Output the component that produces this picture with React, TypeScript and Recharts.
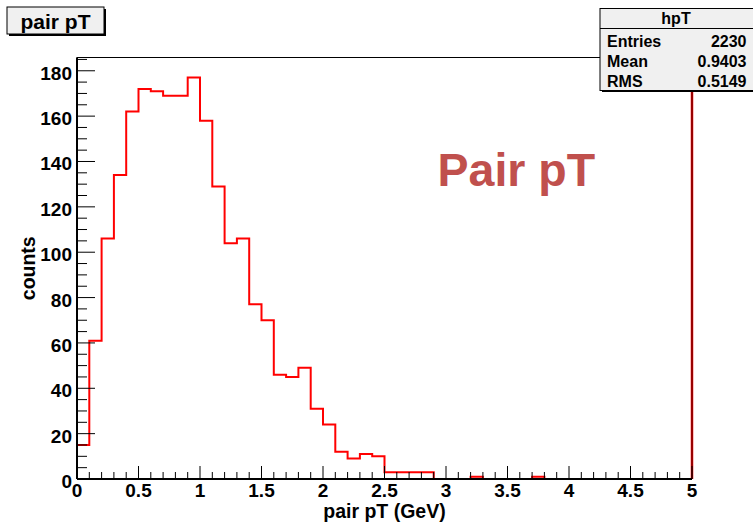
import React from 'react';
import {
  ComposedChart,
  Line,
  XAxis,
  YAxis,
  ReferenceLine,
  ReferenceArea,
} from 'recharts';

// ── Data (0.1 GeV bins) ──────────────────────────────────────────────────────

const X_MIN = 0;
const X_MAX = 5;
const BIN_WIDTH = 0.1;
const Y_MAX = 185.85;

const counts = [
  15, 61, 106, 134, 162, 172, 171, 169, 169, 177,
  158, 129, 104, 106, 77, 70, 46, 45, 49, 31,
  24, 12, 9, 11, 10, 3, 3, 3, 3, 0,
  0, 0, 1, 0, 0, 0, 0, 1, 0, 0,
  0, 0, 0, 0, 0, 0, 0, 0, 0, 0,
];

const xMajorTicks = [0, 0.5, 1, 1.5, 2, 2.5, 3, 3.5, 4, 4.5, 5];
const yMajorTicks = [0, 20, 40, 60, 80, 100, 120, 140, 160, 180];
const X_MINOR_STEP = 0.1;
const Y_MINOR_STEP = 5;

const statsTitle = 'hpT';
const statsRows = [
  ['Entries', '2230'],
  ['Mean', '0.9403'],
  ['RMS', '0.5149'],
];

// ── Helpers ──────────────────────────────────────────────────────────────────

const FONT = '"Liberation Sans", Arial, Helvetica, sans-serif';

const round = (v: number) => Math.round(v * 1000) / 1000;

const xTicks: number[] = [];
for (let i = 0; i <= Math.round((X_MAX - X_MIN) / X_MINOR_STEP); i++) xTicks.push(round(X_MIN + i * X_MINOR_STEP));
const yTicks: number[] = [];
for (let v = 0; v <= Y_MAX; v += Y_MINOR_STEP) yTicks.push(v);

const isIn = (v: number, list: number[]) => list.some((t) => Math.abs(t - v) < 1e-6);

// histogram outline: start at zero on the low edge, one point per bin edge
const histData = [
  { x: X_MIN, count: 0 },
  ...counts.map((c, i) => ({ x: round(X_MIN + i * BIN_WIDTH), count: c })),
  { x: X_MAX, count: 0 },
];

function XTick(props: any) {
  const { x, y, payload } = props;
  const major = isIn(payload.value, xMajorTicks);
  return (
    <g>
      <line x1={x} x2={x} y1={y} y2={y - (major ? 13 : 7)} stroke="#000" strokeWidth={1} />
      {major && (
        <text x={x} y={y + 18} textAnchor="middle" fontFamily={FONT} fontWeight="bold" fontSize={19} fill="#000">
          {String(payload.value)}
        </text>
      )}
    </g>
  );
}

function YTick(props: any) {
  const { x, y, payload } = props;
  const major = isIn(payload.value, yMajorTicks);
  return (
    <g>
      <line x1={x} x2={x + (major ? 18 : 10)} y1={y} y2={y} stroke="#000" strokeWidth={1} />
      {major && (
        <text x={x - 5} y={y + 9} textAnchor="end" fontFamily={FONT} fontWeight="bold" fontSize={19} fill="#000">
          {String(payload.value)}
        </text>
      )}
    </g>
  );
}

// ── Chart ────────────────────────────────────────────────────────────────────

export default function App() {
  return (
    <div style={{ position: 'absolute', left: 0, top: 0, width: 753, height: 526, background: '#fff' }}>
      <ComposedChart
        width={753}
        height={526}
        data={histData}
        margin={{ top: 57.5, right: 61, bottom: 0, left: 0 }}
      >
        <XAxis
          type="number"
          dataKey="x"
          domain={[X_MIN, X_MAX]}
          ticks={xTicks}
          interval={0}
          height={47}
          tickSize={0}
          tickMargin={0}
          tick={(p: any) => <XTick {...p} />}
          axisLine={{ stroke: '#000', strokeWidth: 2 }}
          allowDataOverflow
          label={(p: any) => {
            const vb = p.viewBox;
            return (
              <text x={vb.x + vb.width / 2} y={vb.y + 39} textAnchor="middle" fontFamily={FONT} fontWeight="bold" fontSize={19.5} fill="#000">
                pair pT (GeV)
              </text>
            );
          }}
        />
        <YAxis
          type="number"
          domain={[0, Y_MAX]}
          ticks={yTicks}
          interval={0}
          width={77}
          tickSize={0}
          tickMargin={0}
          tick={(p: any) => <YTick {...p} />}
          axisLine={{ stroke: '#000', strokeWidth: 2 }}
          allowDataOverflow
          label={(p: any) => {
            const vb = p.viewBox;
            const cx = vb.x + 35;
            const cy = vb.y + vb.height / 2;
            return (
              <text x={cx} y={cy} transform={`rotate(-90, ${cx}, ${cy})`} textAnchor="middle" fontFamily={FONT} fontWeight="bold" fontSize={19.5} fill="#000">
                counts
              </text>
            );
          }}
        />
        <ReferenceLine x={X_MAX} stroke="#ff0000" strokeWidth={2.5} ifOverflow="visible" />
        <ReferenceLine x={X_MAX} stroke="#000" strokeWidth={0.8} ifOverflow="visible" />
        <ReferenceArea x1={X_MIN} x2={X_MAX} y1={0} y2={Y_MAX} fill="none" stroke="#000" strokeWidth={1} />
        <Line
          type="stepAfter"
          dataKey="count"
          stroke="#ff0000"
          strokeWidth={2}
          dot={false}
          activeDot={false}
          isAnimationActive={false}
        />
      </ComposedChart>

      {/* title box, stats box and the in-plot caption */}
      <svg width={753} height={526} style={{ position: 'absolute', left: 0, top: 0, pointerEvents: 'none' }}>
        <rect x={9} y={9} width={97} height={27} fill="#000" />
        <rect x={7} y={7} width={97} height={27} fill="#f0f0f0" stroke="#000" strokeWidth={1} />
        <text x={55.5} y={28.5} textAnchor="middle" fontFamily={FONT} fontWeight="bold" fontSize={21} fill="#000">
          pair pT
        </text>

        <rect x={602} y={10} width={160} height={82} fill="#000" />
        <rect x={600} y={8.5} width={160} height={82} fill="#f0f0f0" stroke="#000" strokeWidth={1} />
        <line x1={600} x2={760} y1={28.5} y2={28.5} stroke="#000" strokeWidth={1} />
        <text x={676} y={24} textAnchor="middle" fontFamily={FONT} fontWeight="bold" fontSize={16} fill="#000">
          {statsTitle}
        </text>
        {statsRows.map(([k, v], i) => (
          <g key={k}>
            <text x={607} y={46.5 + i * 20.2} fontFamily={FONT} fontWeight="bold" fontSize={16} fill="#000">{k}</text>
            <text x={746.5} y={46.5 + i * 20.2} textAnchor="end" fontFamily={FONT} fontWeight="bold" fontSize={16} fill="#000">{v}</text>
          </g>
        ))}

        <text x={437.5} y={185.5} fontFamily={FONT} fontWeight="bold" fontSize={46.5} fill="#c0504d">
          Pair pT
        </text>
      </svg>
    </div>
  );
}
